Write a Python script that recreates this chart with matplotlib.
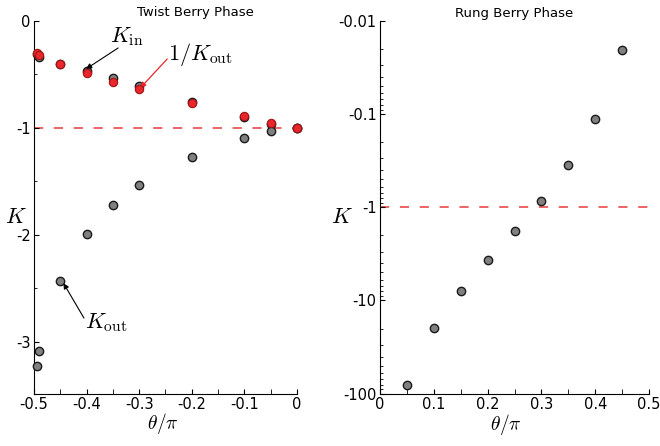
import numpy as np
import matplotlib
matplotlib.use("Agg")
import matplotlib.pyplot as plt
from matplotlib.ticker import MultipleLocator, FuncFormatter, LogLocator, NullFormatter

plt.rcParams['mathtext.fontset'] = 'cm'
plt.rcParams['font.family'] = 'DejaVu Sans'

# Twist Berry phase: K_in, K_out and 1/K_out vs theta/pi
theta_twist = [-0.495, -0.49, -0.45, -0.4, -0.35, -0.3, -0.2, -0.1, -0.05, 0.0]
K_in = [-0.31, -0.335, -0.405, -0.467, -0.54, -0.613, -0.757, -0.90, -0.965, -1.0]
K_out = [-3.23, -3.09, -2.43, -1.99, -1.725, -1.535, -1.277, -1.10, -1.034, -1.0]
inv_K_out = [-0.30, -0.325, -0.405, -0.49, -0.57, -0.64, -0.772, -0.894, -0.953, -1.0]

# Rung Berry phase
theta_rung = [0.05, 0.1, 0.15, 0.2, 0.25, 0.3, 0.35, 0.4, 0.45]
K_rung = [-80.3, -19.7, -7.9, -3.73, -1.81, -0.856, -0.352, -0.112, -0.0208]

gray_kw = dict(ls='none', marker='o', ms=6, mfc='#808080', mec='#1a1a1a', mew=1.0, clip_on=False, zorder=3)
red_kw = dict(ls='none', marker='o', ms=6, mfc='#e8262b', mec='#a01515', mew=0.8, clip_on=False, zorder=4)
dash_kw = dict(color='#e8393a', ls=(0, (6, 7)), lw=1.1, zorder=1)

fig = plt.figure(figsize=(6.6, 4.46), dpi=100)
ax1 = fig.add_axes([0.0515, 0.1166, 0.3985, 0.837])
ax2 = fig.add_axes([0.5758, 0.1173, 0.4075, 0.8363])

for ax in (ax1, ax2):
    ax.spines['top'].set_visible(False)
    ax.spines['right'].set_visible(False)
    ax.tick_params(which='both', direction='in', labelsize=10.5, pad=2.5)
    ax.tick_params(which='major', length=3.5)
    ax.tick_params(which='minor', length=2)

# left panel
ax1.axhline(-1, **dash_kw)
ax1.plot(theta_twist, K_in, **gray_kw)
ax1.plot(theta_twist, K_out, **gray_kw)
ax1.plot(theta_twist, inv_K_out, **red_kw)
ax1.set_xlim(-0.5, 0)
ax1.set_ylim(-3.49, 0)
ax1.set_xticks([-0.5, -0.4, -0.3, -0.2, -0.1, 0])
ax1.set_xticklabels(['-0.5', '-0.4', '-0.3', '-0.2', '-0.1', '0'])
ax1.xaxis.set_minor_locator(MultipleLocator(0.05))
ax1.tick_params(axis='x', which='minor', length=3.5)
ax1.set_yticks([0, -1, -2, -3])
ax1.set_yticklabels(['0', '-1', '-2', '-3'])
ax1.yaxis.set_minor_locator(MultipleLocator(0.5))
ax1.set_xlabel(r'$\theta/\pi$', fontsize=14)
ax1.xaxis.set_label_coords(0.49, -0.045)
ax1.set_ylabel(r'$K$', fontsize=16, rotation=0, ha='center', va='center')
ax1.yaxis.set_label_coords(-0.068, 0.474)
ax1.text(0.612, 1.022, 'Twist Berry Phase', transform=ax1.transAxes, ha='center', va='center', fontsize=9.5)

ax1.annotate('', xy=(-0.401, -0.451), xytext=(-0.340, -0.255),
             arrowprops=dict(arrowstyle='-|>', color='black', lw=0.8, mutation_scale=8, shrinkA=0, shrinkB=0))
ax1.text(-0.356, -0.152, r'$K_{\rm in}$', fontsize=16, ha='left', va='center')
ax1.annotate('', xy=(-0.298, -0.629), xytext=(-0.2467, -0.358),
             arrowprops=dict(arrowstyle='-|>', color='#e8262b', lw=0.9, mutation_scale=8, shrinkA=0, shrinkB=0))
ax1.text(-0.245, -0.32, r'$1/K_{\rm out}$', fontsize=16, ha='left', va='center')
ax1.annotate('', xy=(-0.444, -2.454), xytext=(-0.405, -2.78),
             arrowprops=dict(arrowstyle='-|>', color='black', lw=0.8, mutation_scale=8, shrinkA=0, shrinkB=0))
ax1.text(-0.403, -2.82, r'$K_{\rm out}$', fontsize=16, ha='left', va='center')

# right panel, |K| on a log axis with negative labels
ax2.axhline(1, **dash_kw)
ax2.plot(theta_rung, -np.array(K_rung), **gray_kw)
ax2.set_yscale('log')
ax2.set_ylim(100, 0.01)
ax2.set_xlim(0, 0.5)
ax2.set_xticks([0, 0.1, 0.2, 0.3, 0.4, 0.5])
ax2.set_xticklabels(['0', '0.1', '0.2', '0.3', '0.4', '0.5'])
ax2.xaxis.set_minor_locator(MultipleLocator(0.05))
ax2.tick_params(axis='x', which='minor', length=3.5)
ax2.yaxis.set_major_locator(LogLocator(base=10))
ax2.yaxis.set_major_formatter(FuncFormatter(lambda v, _: '-%g' % v))
ax2.yaxis.set_minor_locator(LogLocator(base=10, subs=np.arange(2, 10)))
ax2.yaxis.set_minor_formatter(NullFormatter())
ax2.set_xlabel(r'$\theta/\pi$', fontsize=14)
ax2.xaxis.set_label_coords(0.468, -0.05)
ax2.set_ylabel(r'$K$', fontsize=16, rotation=0, ha='center', va='center')
ax2.yaxis.set_label_coords(-0.143, 0.474)
ax2.set_title('Rung Berry Phase', fontsize=9.5, pad=3)

fig.savefig('out.png', dpi=100)
